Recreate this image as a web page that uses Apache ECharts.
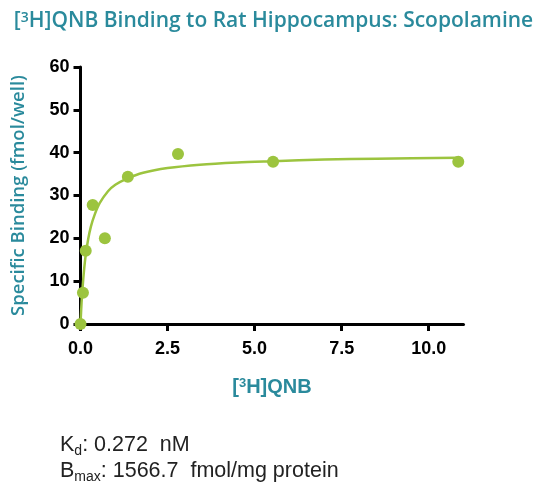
<!DOCTYPE html>
<html>
<head>
<meta charset="utf-8">
<script src="https://cdn.jsdelivr.net/npm/echarts@6/dist/echarts.min.js"></script>
<style>
  html, body { margin: 0; padding: 0; background: #fff; }
  #chart { width: 547px; height: 499px; }
</style>
</head>
<body>
<div id="chart"></div>
<script>
// measured points: [3H]QNB (nM) vs specific binding (fmol/well)
var concs = [0, 0.07, 0.15, 0.35, 0.70, 1.36, 2.80, 5.53, 10.85];
var binding = [0, 7.3, 17.1, 27.8, 20.0, 34.4, 39.7, 37.9, 37.9];

// fitted curve
var fitX = [0, 0.03, 0.06, 0.1, 0.15, 0.22, 0.3, 0.41, 0.55, 0.79, 1.0, 1.32, 1.8, 2.5, 3.43, 4.5, 5.53, 7.0, 8.5, 10.85];
var fitY = [0, 4.9, 8.5, 12.4, 16.1, 19.8, 22.8, 25.6, 28.2, 31.0, 32.5, 33.9, 35.3, 36.4, 37.2, 37.7, 38.0, 38.4, 38.6, 38.8];

var xTicks = [0, 2.5, 5, 7.5, 10];
var yTicks = [0, 10, 20, 30, 40, 50, 60];

var teal = '#2a8a9c';
var green = '#9cc43f';

var myChart = echarts.init(document.getElementById('chart'));

myChart.setOption({
    animation: false,
    title: {
        text: '[{sup|3}H]QNB Binding to Rat Hippocampus: Scopolamine',
        left: 'center',
        top: 6,
        textStyle: {
            fontFamily: 'Open Sans',
            fontWeight: 600,
            fontSize: 21,
            color: teal,
            rich: {
                sup: { fontSize: 14, fontWeight: 600, color: teal, fontFamily: 'Open Sans', verticalAlign: 'top', lineHeight: 20 }
            }
        }
    },
    grid: {
        left: 80.5,
        top: 67,
        width: 383,
        height: 257
    },
    xAxis: {
        type: 'value',
        min: 0,
        max: 11,
        interval: 2.5,
        name: '[{sup|3}H]QNB',
        nameLocation: 'middle',
        nameGap: 53,
        nameTextStyle: {
            fontFamily: 'Liberation Sans',
            fontWeight: 'bold',
            fontSize: 20,
            color: teal,
            rich: {
                sup: { fontSize: 13, fontWeight: 'bold', color: teal, fontFamily: 'Liberation Sans', verticalAlign: 'top', lineHeight: 20 }
            }
        },
        axisLine: { lineStyle: { color: '#000', width: 3 } },
        axisTick: { length: 7, lineStyle: { color: '#000', width: 3 } },
        axisLabel: {
            margin: 16,
            fontFamily: 'Liberation Sans',
            fontWeight: 'bold',
            fontSize: 18,
            color: '#000',
            showMaxLabel: false,
            formatter: function (v) { return xTicks.indexOf(v) >= 0 ? v.toFixed(1) : ''; }
        },
        splitLine: { show: false }
    },
    yAxis: {
        type: 'value',
        min: 0,
        max: 60,
        interval: 10,
        name: 'Specific Binding (fmol/well)',
        nameLocation: 'middle',
        nameGap: 52,
        nameTextStyle: {
            fontFamily: 'Open Sans',
            fontWeight: 600,
            fontSize: 18.5,
            color: teal
        },
        axisLine: { show: true, lineStyle: { color: '#000', width: 3 } },
        axisTick: { show: true, length: 7, lineStyle: { color: '#000', width: 3 } },
        axisLabel: {
            margin: 11,
            fontFamily: 'Liberation Sans',
            fontWeight: 'bold',
            fontSize: 18,
            color: '#000',
            formatter: function (v) { return yTicks.indexOf(v) >= 0 ? String(v) : ''; }
        },
        splitLine: { show: false }
    },
    graphic: [
        {
            type: 'text',
            left: 60,
            top: 434,
            style: {
                text: 'K{sub|d}: 0.272  nM',
                font: '21.5px "Liberation Sans"',
                fill: '#222',
                rich: {
                    sub: { fontSize: 14, fontFamily: 'Liberation Sans', fill: '#222', verticalAlign: 'bottom', lineHeight: 26 }
                }
            }
        },
        {
            type: 'text',
            left: 60,
            top: 460,
            style: {
                text: 'B{sub|max}: 1566.7  fmol/mg protein',
                font: '21.5px "Liberation Sans"',
                fill: '#222',
                rich: {
                    sub: { fontSize: 14, fontFamily: 'Liberation Sans', fill: '#222', verticalAlign: 'bottom', lineHeight: 26 }
                }
            }
        }
    ],
    series: [
        {
            type: 'line',
            data: fitX.map(function (x, i) { return [x, fitY[i]]; }),
            smooth: 0.3,
            showSymbol: false,
            symbol: 'none',
            lineStyle: { color: green, width: 2.5 },
            z: 2
        },
        {
            type: 'scatter',
            data: concs.map(function (x, i) { return [x, binding[i]]; }),
            symbolSize: 12,
            itemStyle: { color: green, opacity: 1 },
            z: 3
        }
    ]
});
</script>
</body>
</html>
